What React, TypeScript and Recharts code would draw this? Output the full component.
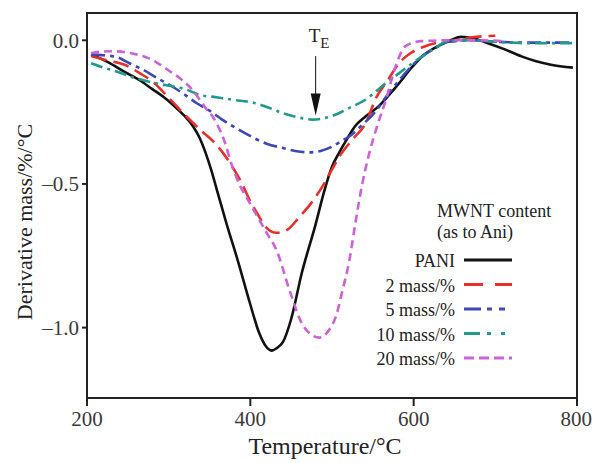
import {
  Label,
  Legend,
  Line,
  LineChart,
  ReferenceArea,
  ReferenceDot,
  ReferenceLine,
  XAxis,
  YAxis,
} from "recharts";

// temperatures (°C) and derivative mass (%/°C)
const paniTemp = [205, 225, 246, 265, 280, 295, 311, 320, 330, 338, 345, 352, 358, 371, 385, 399, 411, 419, 426, 433, 440, 450, 463, 480, 490, 500, 509, 517, 528, 541, 557, 570, 582, 596, 610, 630, 645, 658, 675, 691, 710, 732, 750, 768, 795];
const paniDeriv = [-0.05, -0.075, -0.11, -0.14, -0.17, -0.2, -0.24, -0.265, -0.3, -0.34, -0.39, -0.45, -0.51, -0.64, -0.77, -0.91, -1.02, -1.065, -1.08, -1.07, -1.05, -0.97, -0.81, -0.64, -0.53, -0.44, -0.39, -0.35, -0.3, -0.265, -0.23, -0.19, -0.15, -0.1, -0.057, -0.02, 0.0, 0.012, 0.005, -0.01, -0.03, -0.056, -0.073, -0.085, -0.095];

const mass2Temp = [205, 225, 246, 265, 283, 300, 320, 340, 354, 366, 378, 390, 399, 410, 419, 432, 445, 460, 475, 488, 500, 509, 525, 541, 554, 568, 582, 596, 610, 630, 650, 670, 700];
const mass2Deriv = [-0.055, -0.07, -0.085, -0.115, -0.15, -0.2, -0.26, -0.315, -0.35, -0.39, -0.44, -0.5, -0.555, -0.61, -0.65, -0.67, -0.66, -0.615, -0.565, -0.51, -0.45, -0.405, -0.345, -0.29, -0.2, -0.14, -0.08, -0.045, -0.025, -0.008, 0.0, 0.01, 0.016];

const mass5Temp = [205, 220, 238, 252, 267, 285, 304, 320, 335, 350, 365, 382, 401, 420, 440, 455, 472, 486, 500, 512, 521, 535, 554, 568, 582, 596, 610, 625, 643, 670, 700, 740, 795];
const mass5Deriv = [-0.05, -0.052, -0.06, -0.08, -0.1, -0.13, -0.16, -0.19, -0.22, -0.245, -0.275, -0.305, -0.335, -0.36, -0.375, -0.385, -0.39, -0.385, -0.37, -0.35, -0.335, -0.3, -0.245, -0.19, -0.14, -0.095, -0.057, -0.03, -0.005, 0.0, -0.005, -0.008, -0.008];

const mass10Temp = [205, 220, 238, 252, 267, 285, 304, 320, 338, 358, 378, 405, 420, 439, 458, 476, 492, 509, 525, 541, 557, 570, 582, 596, 610, 625, 640, 670, 700, 740, 795];
const mass10Deriv = [-0.08, -0.095, -0.11, -0.125, -0.137, -0.15, -0.16, -0.17, -0.19, -0.198, -0.207, -0.218, -0.232, -0.253, -0.268, -0.276, -0.27, -0.253, -0.23, -0.207, -0.17, -0.14, -0.115, -0.085, -0.057, -0.03, -0.005, 0.0, -0.005, -0.01, -0.01];

const mass20Temp = [205, 215, 230, 248, 262, 275, 287, 300, 316, 325, 335, 345, 356, 369, 378, 388, 399, 410, 420, 432, 448, 463, 475, 484, 496, 506, 512, 521, 529, 537, 545, 554, 566, 578, 590, 610, 640, 680, 712];
const mass20Deriv = [-0.045, -0.04, -0.038, -0.042, -0.05, -0.062, -0.08, -0.105, -0.137, -0.16, -0.195, -0.235, -0.275, -0.357, -0.44, -0.51, -0.565, -0.62, -0.67, -0.73, -0.87, -0.985, -1.025, -1.035, -1.01, -0.95, -0.88, -0.77, -0.63, -0.5, -0.4, -0.31, -0.207, -0.09, -0.02, -0.003, 0.0, 0.0, -0.003];

const xTicks = [200, 400, 600, 800];
const yTicks = [0, -0.5, -1.0];
const markerTemp = 480;

const toPoints = (temps: number[], vals: number[]) =>
  temps.map((t, i) => ({ t, v: vals[i] }));

const series = [
  { name: "PANI", data: toPoints(paniTemp, paniDeriv), color: "#111111", dash: undefined, legendDash: undefined },
  { name: "2 mass/%", data: toPoints(mass2Temp, mass2Deriv), color: "#e8302a", dash: "16 7", legendDash: "19 12" },
  { name: "5 mass/%", data: toPoints(mass5Temp, mass5Deriv), color: "#3c48b4", dash: "14 5 4 5", legendDash: "17 6 5 7 6 7" },
  { name: "10 mass/%", data: toPoints(mass10Temp, mass10Deriv), color: "#1f9a8c", dash: "12 5 3 5", legendDash: "16 7 4 10 4 10" },
  { name: "20 mass/%", data: toPoints(mass20Temp, mass20Deriv), color: "#cc62d8", dash: "8 5", legendDash: "10 5" },
];

const font = "'Liberation Serif', 'Times New Roman', serif";

const formatY = (v: number) => (v === 0 ? "0.0" : "\u2013" + Math.abs(v).toFixed(1));

function LegendBox() {
  return (
    <svg width={240} height={180} style={{ display: "block", fontFamily: font }}>
      <text x={107} y={21} fontSize={18} fill="#222">MWNT content</text>
      <text x={107} y={42} fontSize={18} fill="#222">(as to Ani)</text>
      {series.map((s, i) => {
        const base = 71 + i * 24.5;
        return (
          <g key={s.name}>
            <text x={125} y={base} fontSize={18} fill="#222" textAnchor="end">
              {s.name}
            </text>
            <line
              x1={134}
              x2={182}
              y1={base - 7}
              y2={base - 7}
              stroke={s.color}
              strokeWidth={3}
              strokeDasharray={s.legendDash}
            />
          </g>
        );
      })}
    </svg>
  );
}

export default function App() {
  return (
    <div style={{ position: "absolute", left: 0, top: 0, background: "#fff" }}>
      <LineChart
        width={592}
        height={463}
        margin={{ top: 13, right: 15, bottom: 0, left: 0 }}
        style={{ fontFamily: font }}
      >
        <XAxis
          type="number"
          dataKey="t"
          domain={[200, 800]}
          ticks={xTicks}
          allowDataOverflow
          height={65}
          tickSize={8}
          tickMargin={5}
          stroke="#222"
          strokeWidth={2}
          tick={{ fontSize: 21, fill: "#3a3a3a", fontFamily: font }}
        >
          <Label
            content={() => (
              <text x={325} y={454} fontSize={24} fill="#222" textAnchor="middle" fontFamily={font}>
                Temperature/°C
              </text>
            )}
          />
        </XAxis>
        <YAxis
          type="number"
          dataKey="v"
          domain={[-1.245, 0.095]}
          ticks={yTicks}
          allowDataOverflow
          width={87}
          tickSize={5}
          tickMargin={3}
          tickFormatter={formatY}
          stroke="#222"
          strokeWidth={2}
          tick={{ fontSize: 21, fill: "#3a3a3a", fontFamily: font }}
        >
          <Label
            content={() => (
              <text
                x={32}
                y={222}
                fontSize={22}
                fill="#222"
                textAnchor="middle"
                fontFamily={font}
                transform="rotate(-90, 32, 222)"
              >
                Derivative mass/%/°C
              </text>
            )}
          />
        </YAxis>
        <ReferenceArea
          x1={200}
          x2={800}
          y1={-1.245}
          y2={0.095}
          fill="none"
          stroke="#222"
          strokeWidth={2}
          ifOverflow="visible"
        />
        <ReferenceLine
          segment={[
            { x: markerTemp, y: -0.055 },
            { x: markerTemp, y: -0.2 },
          ]}
          stroke="#111"
          strokeWidth={1}
        />
        <ReferenceDot
          x={markerTemp}
          y={-0.262}
          isFront
          shape={(p: any) => (
            <path
              d={`M${p.cx},${p.cy} L${p.cx - 5},${p.cy - 22} L${p.cx + 5},${p.cy - 22} Z`}
              fill="#111"
            />
          )}
        />
        <ReferenceDot
          x={markerTemp}
          y={0}
          shape={(p: any) => (
            <text x={p.cx - 7} y={p.cy + 2} fontSize={19} fill="#222" fontFamily={font}>
              T
              <tspan fontSize={15} dy={6}>E</tspan>
            </text>
          )}
        />
        {series.map((s) => (
          <Line
            key={s.name}
            data={s.data}
            dataKey="v"
            name={s.name}
            type="monotone"
            stroke={s.color}
            strokeWidth={2.6}
            strokeDasharray={s.dash}
            dot={false}
            activeDot={false}
            isAnimationActive={false}
          />
        ))}
        <Legend
          layout="horizontal"
          verticalAlign="middle"
          align="center"
          content={<LegendBox />}
          wrapperStyle={{ left: 330, top: 196, width: 240, height: 180 }}
        />
      </LineChart>
    </div>
  );
}
